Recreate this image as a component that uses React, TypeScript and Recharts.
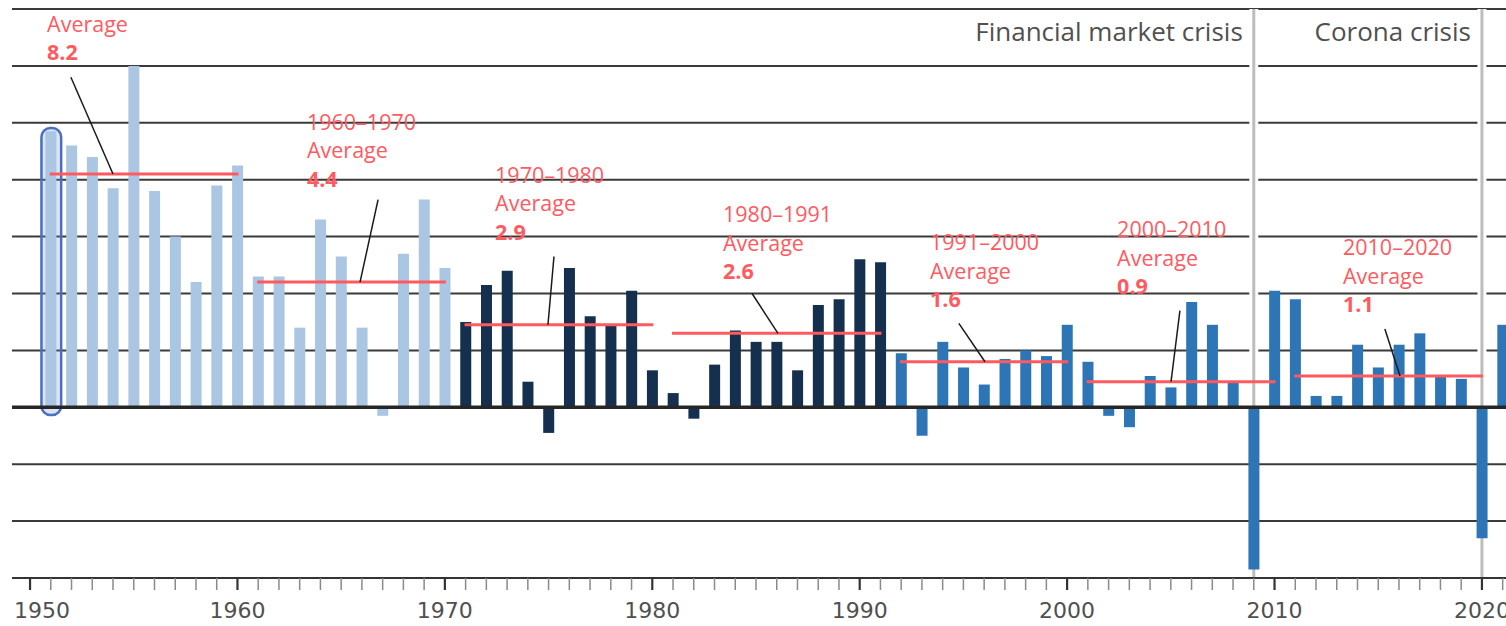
import React from 'react';
import {
  ComposedChart,
  Bar,
  XAxis,
  YAxis,
  CartesianGrid,
  ReferenceLine,
  ReferenceArea,
  ReferenceDot,
  Cell,
} from 'recharts';

// ---------- data ----------
const years = [
  1951, 1952, 1953, 1954, 1955, 1956, 1957, 1958, 1959, 1960,
  1961, 1962, 1963, 1964, 1965, 1966, 1967, 1968, 1969, 1970,
  1971, 1972, 1973, 1974, 1975, 1976, 1977, 1978, 1979, 1980,
  1981, 1982, 1983, 1984, 1985, 1986, 1987, 1988, 1989, 1990,
  1991, 1992, 1993, 1994, 1995, 1996, 1997, 1998, 1999, 2000,
  2001, 2002, 2003, 2004, 2005, 2006, 2007, 2008, 2009, 2010,
  2011, 2012, 2013, 2014, 2015, 2016, 2017, 2018, 2019, 2020,
  2021,
];
const growth = [
  9.7, 9.2, 8.8, 7.7, 12.0, 7.6, 6.0, 4.4, 7.8, 8.5,
  4.6, 4.6, 2.8, 6.6, 5.3, 2.8, -0.3, 5.4, 7.3, 4.9,
  3.0, 4.3, 4.8, 0.9, -0.9, 4.9, 3.2, 2.9, 4.1, 1.3,
  0.5, -0.4, 1.5, 2.7, 2.3, 2.3, 1.3, 3.6, 3.8, 5.2,
  5.1, 1.9, -1.0, 2.3, 1.4, 0.8, 1.7, 2.0, 1.8, 2.9,
  1.6, -0.3, -0.7, 1.1, 0.7, 3.7, 2.9, 0.9, -5.7, 4.1,
  3.8, 0.4, 0.4, 2.2, 1.4, 2.2, 2.6, 1.1, 1.0, -4.6,
  2.9,
];

const periodStart = [1951, 1961, 1971, 1981, 1992, 2001, 2011];
const periodEnd = [1960, 1970, 1980, 1991, 2000, 2010, 2020];
const periodAverage = [8.2, 4.4, 2.9, 2.6, 1.6, 0.9, 1.1];
const periodName = ['', '1960–1970', '1970–1980', '1980–1991', '1991–2000', '2000–2010', '2010–2020'];
const averageWord = 'Average';

const crisisYears = [2009, 2020];
const crisisNames = ['Financial market crisis', 'Corona crisis'];

const highlightYear = 1951;
const tickYears = Array.from({ length: 2021 - 1950 + 1 }, (_, i) => 1950 + i);
const gridValues = [-6, -4, -2, 0, 2, 4, 6, 8, 10, 12, 14];
const Y_DOMAIN: [number, number] = [-6, 14];
const X_DOMAIN: [number, number] = [1949.13, 2021.16];

// ---------- layout (in data units) ----------
const labelAnchor = [
  { x: 1950.82, y: 13.2 },
  { x: 1963.35, y: 9.75 },
  { x: 1972.42, y: 7.89 },
  { x: 1983.41, y: 6.51 },
  { x: 1993.39, y: 5.52 },
  { x: 2002.41, y: 5.98 },
  { x: 2013.3, y: 5.35 },
];
const calloutFrom = [
  { x: 1951.97, y: 11.6 },
  { x: 1966.78, y: 7.3 },
  { x: 1975.26, y: 5.3 },
  { x: 1984.81, y: 4.0 },
  { x: 1994.78, y: 2.95 },
  { x: 2005.44, y: 3.4 },
  { x: 2015.32, y: 2.75 },
];
const calloutTo = [
  { x: 1954.0, y: 8.2 },
  { x: 1965.91, y: 4.4 },
  { x: 1974.97, y: 2.9 },
  { x: 1986.06, y: 2.6 },
  { x: 1996.04, y: 1.6 },
  { x: 2005.01, y: 0.9 },
  { x: 2016.05, y: 1.1 },
];

const COLORS = {
  early: '#aac6e3',
  mid: '#15304f',
  late: '#2e75b6',
  grid: '#3a3a3a',
  red: '#ff5a5f',
  crisis: '#bdbdbd',
  text: '#505050',
};

const barColor = (year: number) =>
  year <= 1970 ? COLORS.early : year <= 1991 ? COLORS.mid : COLORS.late;

const data = years.map((year, i) => ({ year, value: growth[i] }));

const yPos = (args: any, v: number) => {
  const s = args?.yAxis?.scale;
  if (typeof s === 'function') return s(v);
  const o = args.offset;
  return o.top + (o.height * (Y_DOMAIN[1] - v)) / (Y_DOMAIN[1] - Y_DOMAIN[0]);
};
const xPos = (args: any, v: number) => {
  const s = args?.xAxis?.scale;
  if (typeof s === 'function') return s(v);
  const o = args.offset;
  return o.left + (o.width * (v - X_DOMAIN[0])) / (X_DOMAIN[1] - X_DOMAIN[0]);
};

const YearTick = (props: any) => {
  const { x, y, payload } = props;
  const v = payload.value as number;
  const major = v % 10 === 0;
  const first = v === tickYears[0];
  return (
    <g>
      <line
        x1={x}
        x2={x}
        y1={y}
        y2={y + 12}
        stroke={major ? '#333' : '#8a8a8a'}
        strokeWidth={major ? 2.2 : 1.5}
      />
      {major && (
        <text
          x={first ? x - 16 : x}
          y={y + 40}
          textAnchor={first ? 'start' : 'middle'}
          fontFamily="DejaVu Sans"
          fontSize={22}
          fill={COLORS.text}
        >
          {v}
        </text>
      )}
    </g>
  );
};

const makeAvgLabel = (i: number) => (p: any) => {
  const lines: { t: string; bold: boolean }[] = [];
  if (periodName[i]) lines.push({ t: periodName[i], bold: false });
  lines.push({ t: averageWord, bold: false });
  lines.push({ t: periodAverage[i].toFixed(1), bold: true });
  return (
    <text x={p.cx} y={p.cy} fontFamily="Open Sans" fontSize={21.5} fill={COLORS.red}>
      {lines.map((l, k) => (
        <tspan key={k} x={p.cx} dy={k === 0 ? 0 : 28.5} fontWeight={l.bold ? 700 : 400}>
          {l.t}
        </tspan>
      ))}
    </text>
  );
};

const makeCrisisLabel = (i: number) => (p: any) => (
  <text
    x={p.cx - 11}
    y={p.cy + 32}
    textAnchor="end"
    fontFamily="Open Sans"
    fontSize={26}
    fill={COLORS.text}
  >
    {crisisNames[i]}
  </text>
);

export default function App() {
  return (
    <div style={{ position: 'absolute', left: 0, top: 0, background: '#fff' }}>
      <ComposedChart
        width={1506}
        height={626}
        data={data}
        margin={{ top: 9, right: 0, bottom: 0, left: 12 }}
      >
        <CartesianGrid
          vertical={false}
          stroke={COLORS.grid}
          strokeWidth={2}
          horizontalCoordinatesGenerator={(args: any) => gridValues.map((v) => yPos(args, v))}
        />
        <CartesianGrid
          horizontal={false}
          stroke="#ffffff"
          strokeWidth={9}
          verticalCoordinatesGenerator={(args: any) => crisisYears.map((v) => xPos(args, v))}
        />
        <CartesianGrid
          horizontal={false}
          stroke={COLORS.crisis}
          strokeWidth={3}
          verticalCoordinatesGenerator={(args: any) => crisisYears.map((v) => xPos(args, v))}
        />
        <YAxis
          type="number"
          domain={Y_DOMAIN}
          ticks={gridValues}
          width={0}
          tick={false}
          axisLine={false}
          tickLine={false}
          allowDataOverflow
        />
        <XAxis
          dataKey="year"
          type="number"
          domain={X_DOMAIN}
          allowDataOverflow
          ticks={tickYears}
          interval={0}
          height={48}
          tickSize={0}
          tickMargin={0}
          tickLine={false}
          axisLine={{ stroke: '#333', strokeWidth: 2 }}
          tick={<YearTick />}
        />
        <Bar dataKey="value" barSize={11} isAnimationActive={false}>
          {data.map((d) => (
            <Cell key={d.year} fill={barColor(d.year)} />
          ))}
        </Bar>
        <ReferenceArea
          x1={highlightYear - 0.45}
          x2={highlightYear + 0.5}
          y1={-0.27}
          y2={9.82}
          ifOverflow="visible"
          shape={(p: any) => (
            <rect
              x={p.x}
              y={p.y}
              width={p.width}
              height={p.height}
              rx={9}
              ry={9}
              fill="#6f94cf"
              fillOpacity={0.25}
              stroke="#4a6fc0"
              strokeWidth={2.5}
            />
          )}
        />
        <ReferenceLine y={0} stroke="#262626" strokeWidth={3.5} />
        {periodStart.map((s, i) => (
          <ReferenceLine
            key={'avg' + i}
            segment={[
              { x: s - 0.05, y: periodAverage[i] },
              { x: periodEnd[i] + 0.05, y: periodAverage[i] },
            ]}
            stroke={COLORS.red}
            strokeWidth={3}
            ifOverflow="visible"
          />
        ))}
        {calloutFrom.map((f, i) => (
          <ReferenceLine
            key={'co' + i}
            segment={[f, calloutTo[i]]}
            stroke="#1a1a1a"
            strokeWidth={1.5}
            ifOverflow="visible"
          />
        ))}
        {labelAnchor.map((a, i) => (
          <ReferenceDot
            key={'lab' + i}
            x={a.x}
            y={a.y}
            r={0}
            ifOverflow="visible"
            shape={makeAvgLabel(i)}
          />
        ))}
        {crisisYears.map((y, i) => (
          <ReferenceDot
            key={'cn' + y}
            x={y}
            y={14}
            r={0}
            ifOverflow="visible"
            shape={makeCrisisLabel(i)}
          />
        ))}
      </ComposedChart>
    </div>
  );
}
